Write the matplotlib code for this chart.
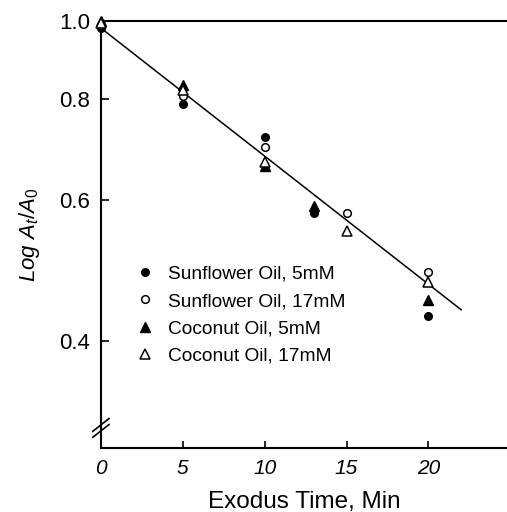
import numpy as np
import matplotlib
matplotlib.use("Agg")
import matplotlib.pyplot as plt
from matplotlib.ticker import NullLocator

plt.rcParams["font.family"] = ["Liberation Sans", "DejaVu Sans"]
plt.rcParams["mathtext.fontset"] = "custom"
plt.rcParams["mathtext.it"] = "Liberation Sans:italic"
plt.rcParams["mathtext.rm"] = "Liberation Sans"

# exodus time (min) and log At/A0 values
t_sf5 = [0, 5, 10, 13, 20]
sf5 = [0.98, 0.788, 0.718, 0.578, 0.43]

t_sf17 = [0, 5, 10, 15, 20]
sf17 = [0.99, 0.807, 0.697, 0.578, 0.488]

t_co5 = [0, 5, 10, 13, 20]
co5 = [1.0, 0.833, 0.66, 0.59, 0.45]

t_co17 = [0, 5, 10, 15, 20]
co17 = [0.995, 0.82, 0.668, 0.548, 0.474]

fit_t = [0, 22]
fit_y = [0.98, 0.438]

labels = ["Sunflower Oil, 5mM", "Sunflower Oil, 17mM",
          "Coconut Oil, 5mM", "Coconut Oil, 17mM"]

fig = plt.figure(figsize=(5.07, 5.12), dpi=100)
ax = fig.add_axes([0.199, 0.125, 0.801, 0.834])

ax.plot(fit_t, fit_y, color="black", lw=1.1, zorder=2)

ms = 5.5
ax.plot(t_sf5, sf5, "o", ms=ms, color="black", label=labels[0], clip_on=False, zorder=3)
ax.plot(t_sf17, sf17, "o", ms=ms, mfc="white", mec="black", mew=1.1, label=labels[1], clip_on=False, zorder=3)
ax.plot(t_co5, co5, "^", ms=ms + 1.2, color="black", label=labels[2], clip_on=False, zorder=3)
ax.plot(t_co17, co17, "^", ms=ms + 1.2, mfc="white", mec="black", mew=1.1, label=labels[3], clip_on=False, zorder=3)

ax.set_yscale("log")
ax.set_ylim(0.295, 1.0)
ax.set_xlim(0, 24.8)
ax.set_yticks([0.4, 0.6, 0.8, 1.0])
ax.set_yticklabels(["0.4", "0.6", "0.8", "1.0"])
ax.yaxis.set_minor_locator(NullLocator())
ax.set_xticks([0, 5, 10, 15, 20])
ax.set_xticklabels(["0", "5", "10", "15", "20"], style="italic")

ax.spines["right"].set_visible(False)
for s in ["left", "bottom", "top"]:
    ax.spines[s].set_linewidth(1.5)

ax.tick_params(axis="x", direction="in", length=5, width=1.2, labelsize=15, pad=8)
ax.tick_params(axis="y", direction="in", length=6, width=1.2, labelsize=16, pad=8)

ax.set_xlabel("Exodus Time, Min", fontsize=17.5, labelpad=9)
ax.set_ylabel(r"$Log\ A_t/A_0$", fontsize=16, labelpad=12)

# axis break marks on the y axis
for dy in (0.0, 0.014):
    ax.plot([-0.02, 0.02], [0.025 + dy, 0.055 + dy], transform=ax.transAxes,
            color="black", lw=1.2, clip_on=False)

ax.legend(loc="upper left", bbox_to_anchor=(0.085, 0.428), frameon=False,
          fontsize=13.8, handlelength=1.0, handletextpad=0.7,
          labelspacing=0.52, borderpad=0, borderaxespad=0)

fig.savefig("out.png", dpi=100)
plt.close(fig)
